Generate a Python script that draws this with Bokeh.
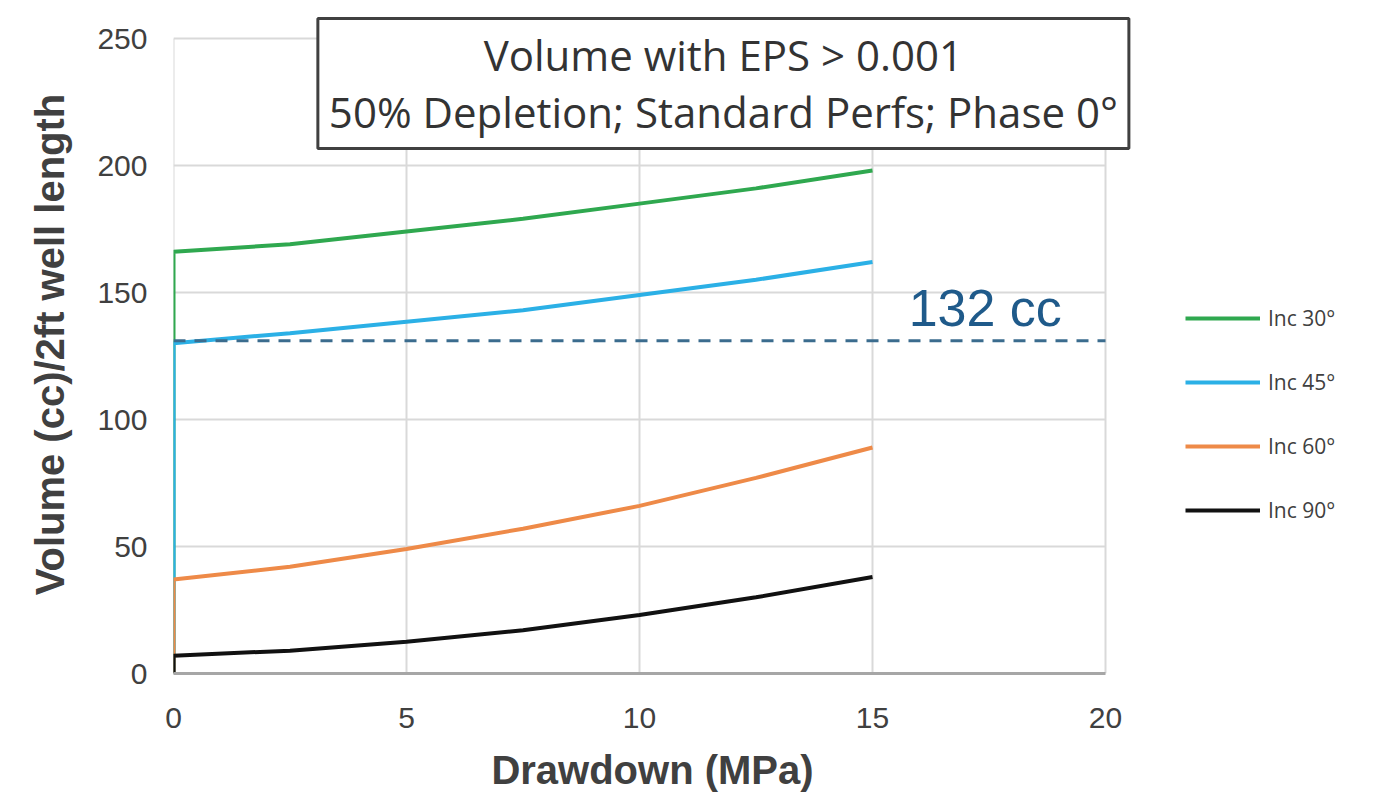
from bokeh.plotting import figure
from bokeh.embed import file_html
from bokeh.resources import INLINE
from bokeh.models import Range1d, Label, FixedTicker, Legend, LegendItem

# ---- data ----
drawdown = [0, 0, 2.5, 5, 7.5, 10, 12.5, 15]
inc30 = [0, 166, 169, 174, 179, 185, 191, 198]
inc45 = [0, 130, 134, 138.5, 143, 149, 155, 162]
inc60 = [0, 37, 42, 49, 57, 66, 77, 89]
inc90 = [0, 7, 9, 12.5, 17, 23, 30, 38]
series_names = ["Inc 30°", "Inc 45°", "Inc 60°", "Inc 90°"]
series_colors = ["#2fa84f", "#2bb0e6", "#ee8a48", "#111111"]
threshold = 131
threshold_label = "132 cc"
title_lines = ["Volume with EPS > 0.001", "50% Depletion; Standard Perfs; Phase 0°"]
x_ticks = [0, 5, 10, 15, 20]
y_ticks = [0, 50, 100, 150, 200, 250]

x_lo, x_hi = x_ticks[0], x_ticks[-1]
y_lo, y_hi = y_ticks[0], y_ticks[-1]

# frame extends a little beyond the axes so the title box can overhang the plot area
p = figure(frame_width=958, frame_height=658, output_backend="svg", toolbar_location=None,
           x_range=Range1d(x_lo, 20.558), y_range=Range1d(y_lo, 259.06),
           min_border_left=173, min_border_right=239, min_border_top=15, min_border_bottom=112)
p.outline_line_color = None
p.background_fill_color = "white"
p.xgrid.visible = False
p.ygrid.visible = False

# grid lines limited to the axes' extent
p.segment(x0=x_ticks, x1=x_ticks, y0=[y_lo] * len(x_ticks), y1=[y_hi] * len(x_ticks),
          line_color="#d9d9d9", line_width=2)
p.segment(x0=[x_lo] * len(y_ticks), x1=[x_hi] * len(y_ticks), y0=y_ticks, y1=y_ticks,
          line_color="#d9d9d9", line_width=2)

items = []
for ys, name, col in zip([inc30, inc45, inc60, inc90], series_names, series_colors):
    r = p.line(drawdown, ys, line_color=col, line_width=4)
    items.append(LegendItem(label=name, renderers=[r]))

p.line([x_lo, x_hi], [threshold, threshold], line_color="#3b6c8e", line_width=3, line_dash="12 9")
p.add_layout(Label(x=17.42, y=144, text=threshold_label, text_align="center",
                   text_baseline="alphabetic", text_font="Liberation Sans",
                   text_font_size="52px", text_color="#1f5a8a"))

# title box (multi-line label with border)
p.add_layout(Label(x=11.80, y=232.3, text="\n".join(title_lines), text_align="center",
                   text_baseline="middle", text_font="Open Sans", text_font_size="42px",
                   text_line_height=1.0, text_color="#333333",
                   background_fill_color="white", background_fill_alpha=1.0,
                   border_line_color="#404040", border_line_width=3,
                   padding=dict(left=11, right=11, top=8, bottom=8)))

# axes
p.xaxis.ticker = FixedTicker(ticks=x_ticks)
p.yaxis.ticker = FixedTicker(ticks=y_ticks)
p.xaxis.bounds = (x_lo, x_hi)
p.yaxis.bounds = (y_lo, y_hi)
for ax in (p.xaxis[0], p.yaxis[0]):
    ax.major_tick_line_color = None
    ax.minor_tick_line_color = None
    ax.major_label_text_font = "Liberation Sans"
    ax.major_label_text_font_size = "30px"
    ax.major_label_text_color = "#404040"
    ax.axis_label_text_font = "Liberation Sans"
    ax.axis_label_text_font_style = "bold"
    ax.axis_label_text_font_size = "40px"
    ax.axis_label_text_color = "#404040"
p.xaxis.axis_label = "Drawdown (MPa)"
p.yaxis.axis_label = "Volume (cc)/2ft well length"
p.xaxis.axis_line_color = "#a6a6a6"
p.xaxis.axis_line_width = 3
p.yaxis.axis_line_color = None
p.xaxis.major_label_standoff = 28
p.yaxis.major_label_standoff = 20
p.xaxis.axis_label_standoff = 17
p.yaxis.axis_label_standoff = 22

lg = Legend(items=items, location=(54, 149))
lg.padding = 0
lg.margin = 0
lg.border_line_color = None
lg.background_fill_alpha = 0
lg.glyph_width = 75
lg.glyph_height = 20
lg.label_height = 20
lg.spacing = 36
lg.label_standoff = 8
lg.label_text_font = "Open Sans"
lg.label_text_font_size = "21px"
lg.label_text_color = "#404040"
p.add_layout(lg, "right")

open("out.html", "w").write(file_html(p, INLINE))
